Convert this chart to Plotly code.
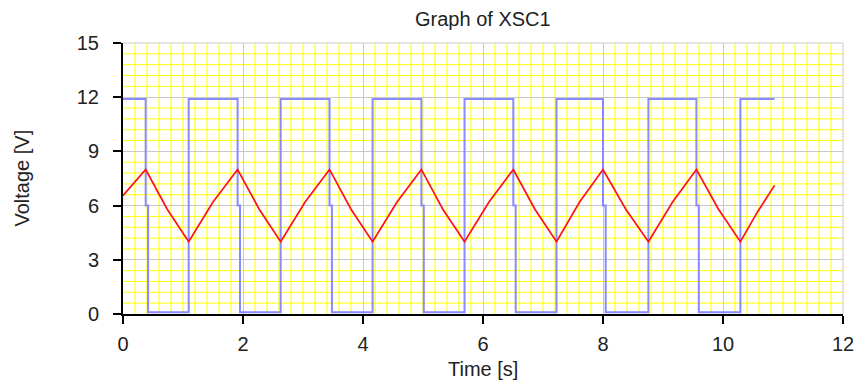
import plotly.graph_objects as go

# Square wave (XSC1 channel B) – step points
sq_t = [0, 0.378, 0.378, 0.418, 0.418, 1.095, 1.095,
        1.910, 1.910, 1.950, 1.950, 2.628, 2.628,
        3.442, 3.442, 3.482, 3.482, 4.160, 4.160,
        4.973, 4.973, 5.013, 5.013, 5.692, 5.692,
        6.505, 6.505, 6.545, 6.545, 7.225, 7.225,
        8.000, 8.000, 8.045, 8.045, 8.757, 8.757,
        9.557, 9.557, 9.597, 9.597, 10.290, 10.290, 10.860]
sq_v = [11.9, 11.9, 6.0, 6.0, 0.1, 0.1, 11.9,
        11.9, 6.0, 6.0, 0.1, 0.1, 11.9,
        11.9, 6.0, 6.0, 0.1, 0.1, 11.9,
        11.9, 6.0, 6.0, 0.1, 0.1, 11.9,
        11.9, 6.0, 6.0, 0.1, 0.1, 11.9,
        11.9, 6.0, 6.0, 0.1, 0.1, 11.9,
        11.9, 6.0, 6.0, 0.1, 0.1, 11.9, 11.9]

# Capacitor voltage (channel A)
cap_t = [0, 0.19, 0.378, 0.737, 1.095, 1.50, 1.910, 2.27, 2.628, 3.035, 3.442,
         3.80, 4.160, 4.567, 4.973, 5.33, 5.692, 6.10, 6.505, 6.865, 7.225,
         7.61, 8.000, 8.38, 8.757, 9.16, 9.557, 9.925, 10.290, 10.575, 10.860]
cap_v = [6.55, 7.3, 8.0, 5.8, 4.0, 6.2, 8.0, 5.8, 4.0, 6.2, 8.0,
         5.8, 4.0, 6.2, 8.0, 5.8, 4.0, 6.2, 8.0, 5.8, 4.0,
         6.2, 8.0, 5.8, 4.0, 6.2, 8.0, 5.8, 4.0, 5.65, 7.12]

x_range = [0, 12]
y_range = [0, 15]
x_major, x_minor_per_major = 2, 10   # minor step 0.2 s
y_major, y_minor_per_major = 3, 5    # minor step 0.6 V

title_text = "Graph of XSC1"
x_label = "Time [s]"
y_label = "Voltage [V]"

FONT = "Liberation Sans, Arial, sans-serif"
TXT = "#222222"
YEL = "#ffff00"
GRAY = "#c8c8c8"

fig = go.Figure()
fig.add_trace(go.Scatter(x=sq_t, y=sq_v, mode="lines",
                         line=dict(color="#8a8aff", width=2), showlegend=False))
fig.add_trace(go.Scatter(x=cap_t, y=cap_v, mode="lines",
                         line=dict(color="#ff1010", width=1.7), showlegend=False))

axis_common = dict(
    showgrid=True, gridcolor=GRAY, gridwidth=1,
    zeroline=False, showline=True, linecolor="black", linewidth=2,
    ticks="outside", ticklen=8, tickwidth=2, tickcolor="black",
    tickfont=dict(family=FONT, size=20, color=TXT),
    automargin=False, tickmode="linear", tick0=0,
)

fig.update_xaxes(range=x_range, dtick=x_major, ticklabelstandoff=3, **axis_common)
fig.update_yaxes(range=y_range, dtick=y_major, ticklabelstandoff=10, **axis_common)

# yellow minor grid (skipping positions of the gray major grid)
shapes = []
nx = int(round((x_range[1] - x_range[0]) / x_major)) * x_minor_per_major
ny = int(round((y_range[1] - y_range[0]) / y_major)) * y_minor_per_major
for i in range(1, nx):
    if i % x_minor_per_major == 0:
        continue
    xv = x_range[0] + (x_range[1] - x_range[0]) * i / nx
    shapes.append(dict(type="line", xref="x", yref="paper", x0=xv, x1=xv, y0=0, y1=1,
                       line=dict(color=YEL, width=1), layer="below"))
for i in range(1, ny):
    if i % y_minor_per_major == 0:
        continue
    yv = y_range[0] + (y_range[1] - y_range[0]) * i / ny
    shapes.append(dict(type="line", xref="paper", yref="y", x0=0, x1=1, y0=yv, y1=yv,
                       line=dict(color=YEL, width=1), layer="below"))
# gray border on top and right
shapes.append(dict(type="line", xref="paper", yref="paper", x0=0, x1=1, y0=1, y1=1,
                   line=dict(color=GRAY, width=1), layer="below"))
shapes.append(dict(type="line", xref="paper", yref="paper", x0=1, x1=1, y0=0, y1=1,
                   line=dict(color=GRAY, width=1), layer="below"))

fig.add_annotation(text=title_text, xref="paper", yref="paper", x=0.5, y=1,
                   yanchor="middle", yshift=24, showarrow=False,
                   font=dict(family=FONT, size=20, color=TXT))
fig.add_annotation(text=x_label, xref="paper", yref="paper", x=0.5, y=0,
                   yanchor="middle", yshift=-55, showarrow=False,
                   font=dict(family=FONT, size=20, color=TXT))
fig.add_annotation(text=y_label, xref="paper", yref="paper", x=0, y=0.5,
                   xanchor="center", xshift=-102, textangle=-90, showarrow=False,
                   font=dict(family=FONT, size=20, color=TXT))

fig.update_layout(
    width=864, height=383,
    margin=dict(l=123, r=21, t=43, b=69),
    paper_bgcolor="white", plot_bgcolor="white",
    font=dict(family=FONT, size=20, color=TXT),
    shapes=shapes,
)

fig.write_html("out.html", config={"displayModeBar": False},
               post_script="document.body.style.margin='0';document.body.style.padding='0';")
